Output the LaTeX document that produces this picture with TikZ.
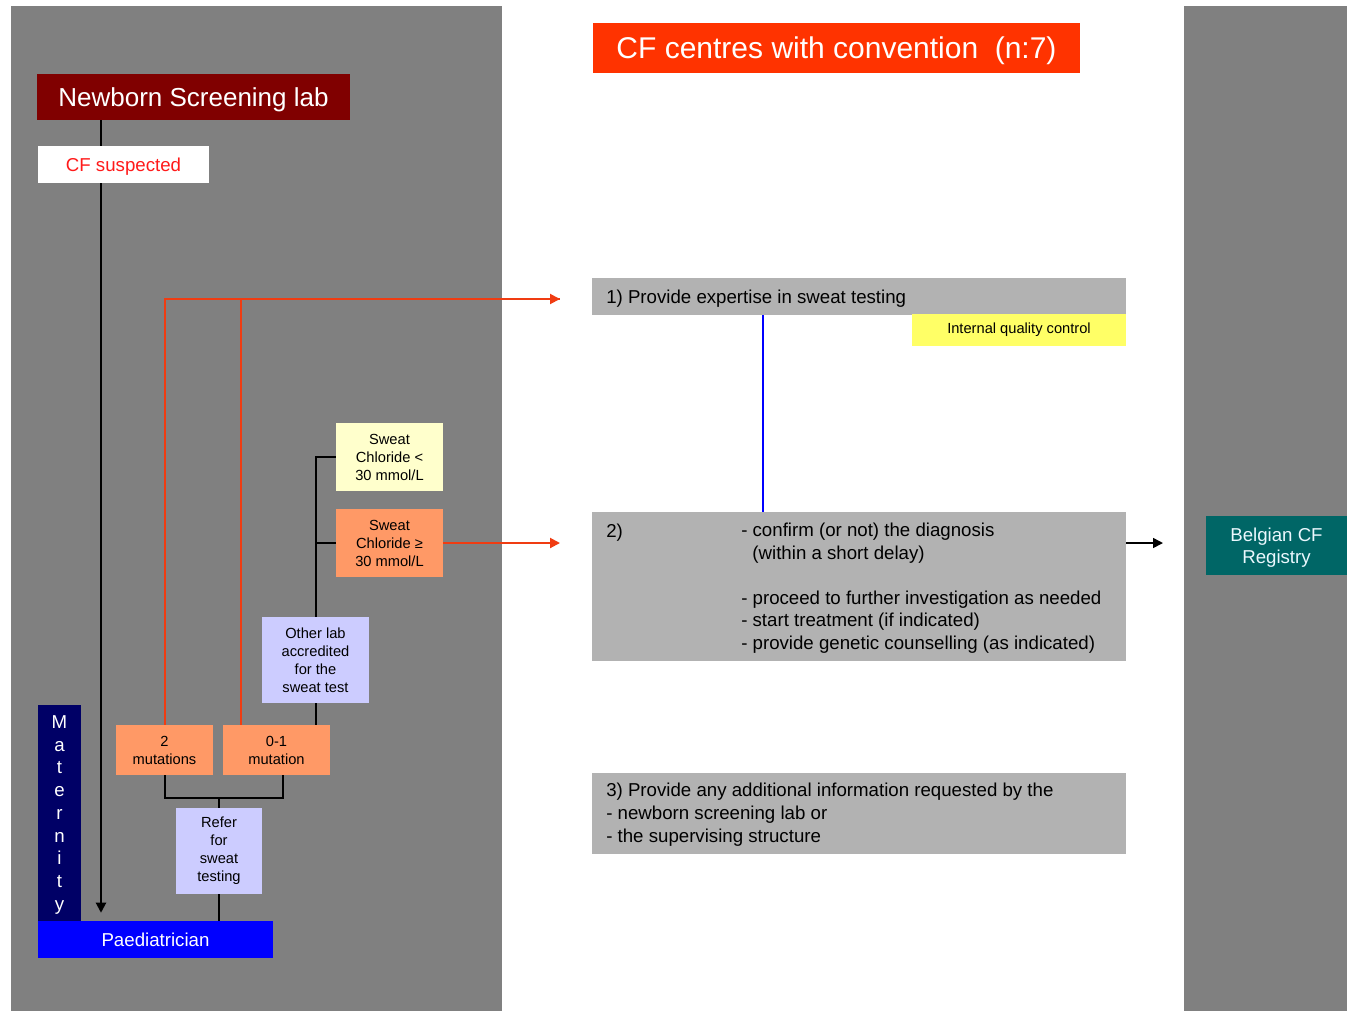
\documentclass[tikz,border=0pt]{standalone}
\usepackage{fontspec}
\setmainfont{Liberation Sans}
\usetikzlibrary{arrows.meta}

\definecolor{panelgrey}{HTML}{808080}
\definecolor{boxgrey}{HTML}{B2B2B2}
\definecolor{labred}{HTML}{800000}
\definecolor{titlered}{HTML}{FF3300}
\definecolor{wirered}{HTML}{F03C12}
\definecolor{orangebox}{HTML}{FF9966}
\definecolor{lavender}{HTML}{CCCCFF}
\definecolor{paleyellow}{HTML}{FFFFCC}
\definecolor{qcyellow}{HTML}{FFFF66}
\definecolor{navybox}{HTML}{000066}
\definecolor{paedblue}{HTML}{0000FF}
\definecolor{registry}{HTML}{006666}
\definecolor{suspred}{HTML}{FF1A1A}

\newcommand\setfs[2]{\fontsize{#1}{#2}\selectfont}

\pgfdeclarelayer{panel}
\pgfdeclarelayer{wires}
\pgfsetlayers{panel,wires,main}

\begin{document}
\begin{tikzpicture}[x=0.75pt,y=-0.75pt,
  bx/.style n args={2}{rectangle, inner sep=0pt,
    minimum width=#1*0.75pt, minimum height=#2*0.75pt},
  body/.style={font=\setfs{14}{16.9}},
  small/.style={font=\setfs{11}{13.5}, align=center, text=black},
  wire/.style={draw=black, line width=1.5pt},
  redwire/.style={draw=wirered, line width=1.5pt},
  blkarrow/.style={-{Triangle[length=7.5pt,width=7.5pt]}},
  redarrow/.style={-{Triangle[length=7.5pt,width=7.5pt]}},
  % multi-line text blocks are placed by the baseline of their last line
  txt/.style={anchor=base west, inner sep=0pt, body, align=left}]

\useasboundingbox (0,0) rectangle (1347,1011);

% grey side panels
\begin{pgfonlayer}{panel}
  \fill[white] (0,0) rectangle (1347,1011);
  \fill[panelgrey] (11,6) rectangle (502,1011);
  \fill[panelgrey] (1184,6) rectangle (1347,1011);
\end{pgfonlayer}

% ---------- left: screening pathway ----------
\node[bx={313}{46}, fill=labred, text=white, text depth=0pt, font=\setfs{19.5}{23}] (nsl) at (193.5,97) {Newborn Screening lab};
\node[bx={171}{37}, fill=white, text=suspred, text depth=0pt, body] (susp) at (123.5,164.5) {CF suspected};

\node[bx={43}{216}, fill=navybox, text=white, align=center, text depth=0pt, font=\setfs{14}{17.06}] (mat) at (59.5,813)
  {M\\a\\t\\e\\r\\n\\i\\t\\y};
\node[bx={235}{37}, fill=paedblue, text=white, body] (paed) at (155.5,939.5) {Paediatrician};

\node[bx={86}{86}, fill=lavender, small] (refer) at (219,851) {Refer\\for\\sweat\\testing};
\node[bx={97}{50}, fill=orangebox, small] (mut2) at (164.5,750) {2\\mutations};
\node[bx={107}{50}, fill=orangebox, small] (mut01) at (276.5,750) {0-1\\mutation};
\node[bx={107}{86}, fill=lavender, small] (other) at (315.5,660) {Other lab\\accredited\\for the\\sweat test};
\node[bx={107}{68}, fill=paleyellow, small] (scl) at (389.5,457) {Sweat\\Chloride <\\30 mmol/L};
\node[bx={107}{68}, fill=orangebox, small] (scg) at (389.5,543) {Sweat\\Chloride ≥\\30 mmol/L};

% ---------- right: CF centres ----------
\node[bx={487}{50}, fill=titlered, text=white, text depth=0pt, font=\setfs{22.5}{27}] (title) at (836.5,48)
  {CF centres with convention\hspace{0.55em}(n:7)};

\node[bx={534}{37}, fill=boxgrey] (b1) at (859,296.5) {};
\node[txt] (b1t) at (606,303) {1) Provide expertise in sweat testing};
\node[bx={214}{32}, fill=qcyellow, small] (iqc) at (1019,330) {Internal quality control};

\node[bx={534}{149}, fill=boxgrey] (b2) at (859,586.5) {};
\node[txt] (b2n) at (606,537) {2)};
\node[txt] (b2t) at (741,649.5)
  {- confirm (or not) the diagnosis\\\hspace{8.4pt}(within a short delay)\\[16.9pt]
   - proceed to further investigation as needed\\
   - start treatment (if indicated)\\
   - provide genetic counselling (as indicated)};

\node[bx={534}{81}, fill=boxgrey] (b3) at (859,813.5) {};
\node[txt] (b3t) at (606,842)
  {3) Provide any additional information requested by the\\
   - newborn screening lab or\\
   - the supervising structure};

\node[bx={141}{59}, fill=registry, text=white!92!cyan, align=center, text depth=0pt, font=\setfs{14}{16.5}] (reg) at (1276.5,545.5)
  {Belgian CF\\Registry};

% ---------- connectors ----------
\coordinate (vx) at (101,0);
\coordinate (brl) at (164.5,798);
\coordinate (brr) at (283,798);
\coordinate (r01) at (241,0);
\coordinate (ra) at (560,299);
\coordinate (bx1) at (763,0);
\coordinate (ra3) at (1163,543);

\begin{pgfonlayer}{wires}
  % screening lab down to the paediatrician
  \draw[wire, blkarrow, shorten >=6pt] (nsl.south -| vx) -- (paed.north -| vx);
  % mutation results joined and referred
  \draw[wire] (mut2.south) -- (brl) -- (brr) -- (brr |- mut01.south);
  \draw[wire] (refer.north |- brl) -- (refer.north);
  \draw[wire] (refer.south) -- ([yshift=-3pt]refer.south |- paed.north);
  % other lab branch to sweat chloride results
  \draw[wire] (other.south) -- (other.south |- mut01.north);
  \draw[wire] (other.north) -- (other.north |- scl.west) -- (scl.west);
  \draw[wire] (other.north |- scg.west) -- (scg.west);
  % red routes to the CF centres
  \draw[redwire] (mut2.north) -- (mut2.north |- ra) -- (ra);
  \draw[redwire, redarrow] (mut2.north |- ra) -- (ra);
  \draw[redwire] (mut01.north -| r01) -- (r01 |- ra);
  \draw[redwire, redarrow] (scg.east) -- (scg.east -| ra);
  % centre tasks
  \draw[draw=paedblue, line width=1.5pt] (b1.south -| bx1) -- (b2.north -| bx1);
  \draw[draw=black, line width=1.2pt, blkarrow] (b2.east |- ra3) -- (ra3);
\end{pgfonlayer}

\end{tikzpicture}
\end{document}
